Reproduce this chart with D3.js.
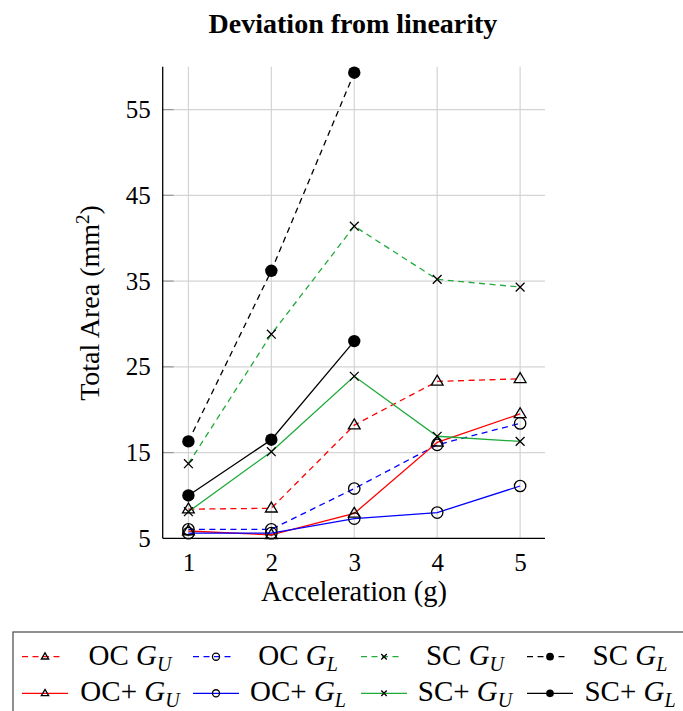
<!DOCTYPE html>
<html>
<head>
<meta charset="utf-8">
<script src="https://cdn.jsdelivr.net/npm/d3@7"></script>
<style>
  body { margin: 0; background: #fff; }
  text { font-family: "Liberation Serif", "Times New Roman", serif; fill: #000; }
</style>
</head>
<body>
<div id="chart"></div>
<script>
// Data
const accel = [1, 2, 3, 4, 5];
const yTicks = [5, 15, 25, 35, 45, 55];

const ocGU = [8.4, 8.5, 18.2, 23.3, 23.6];
const ocGL = [6.05, 6.05, 10.8, 15.9, 18.4];
const scGU = [13.7, 28.8, 41.4, 35.2, 34.3];
const scGL = [16.3, 36.2, 59.3];
const ocpGU = [5.85, 5.4, 7.9, 16.2, 19.5];
const ocpGL = [5.6, 5.6, 7.3, 8.0, 11.1];
const scpGU = [8.1, 15.1, 23.9, 16.9, 16.3];
const scpGL = [10.0, 16.5, 28.0];

const series = [
    { name: "OC", sub: "U", values: ocGU, color: "#ff0000", dashed: true, mark: "triangle" },
    { name: "OC", sub: "L", values: ocGL, color: "#0000ff", dashed: true, mark: "circle" },
    { name: "SC", sub: "U", values: scGU, color: "#1faa3a", dashed: true, mark: "cross" },
    { name: "SC", sub: "L", values: scGL, color: "#000000", dashed: true, mark: "dot" },
    { name: "OC+", sub: "U", values: ocpGU, color: "#ff0000", dashed: false, mark: "triangle" },
    { name: "OC+", sub: "L", values: ocpGL, color: "#0000ff", dashed: false, mark: "circle" },
    { name: "SC+", sub: "U", values: scpGU, color: "#1faa3a", dashed: false, mark: "cross" },
    { name: "SC+", sub: "L", values: scpGL, color: "#000000", dashed: false, mark: "dot" }
];

const width = 683, height = 711;
const plot = { left: 162.7, right: 545, top: 66.7, bottom: 538.3 };
const serif = "'Liberation Serif', 'Times New Roman', serif";

const svg = d3.select("#chart").append("svg")
    .attr("width", width)
    .attr("height", height);

const x = d3.scaleLinear().domain([0.69, 5.3]).range([plot.left, plot.right]);
const y = d3.scaleLinear().domain([5, 60]).range([plot.bottom, plot.top]);

// grid
svg.append("g").selectAll("line")
    .data(accel)
    .enter().append("line")
    .attr("x1", d => x(d)).attr("x2", d => x(d))
    .attr("y1", plot.top).attr("y2", plot.bottom)
    .attr("stroke", "#d4d4d4").attr("stroke-width", 1.2);

svg.append("g").selectAll("line")
    .data(yTicks.slice(1))
    .enter().append("line")
    .attr("x1", plot.left).attr("x2", plot.right)
    .attr("y1", d => y(d)).attr("y2", d => y(d))
    .attr("stroke", "#d4d4d4").attr("stroke-width", 1.2);

// small inner tick marks on the y axis
svg.append("g").selectAll("line")
    .data(yTicks.slice(1))
    .enter().append("line")
    .attr("x1", plot.left).attr("x2", plot.left + 11)
    .attr("y1", d => y(d)).attr("y2", d => y(d))
    .attr("stroke", "#999").attr("stroke-width", 1.2);

// axes
const xAxis = svg.append("g")
    .attr("transform", `translate(0,${plot.bottom})`)
    .call(d3.axisBottom(x).tickValues(accel).tickSize(0).tickPadding(15).tickFormat(d3.format("d")))
    .attr("font-family", serif).attr("font-size", 25);
xAxis.select(".domain").attr("d", `M${plot.left},0H${plot.right}`).attr("stroke", "#000").attr("stroke-width", 1.3);

const yAxis = svg.append("g")
    .attr("transform", `translate(${plot.left},0)`)
    .call(d3.axisLeft(y).tickValues(yTicks).tickSize(0).tickPadding(12).tickFormat(d3.format("d")))
    .attr("font-family", serif).attr("font-size", 25);
yAxis.select(".domain").attr("d", `M0,${plot.top}V${plot.bottom}`).attr("stroke", "#000").attr("stroke-width", 1.3);

// titles
svg.append("text")
    .attr("x", 353).attr("y", 33)
    .attr("text-anchor", "middle")
    .attr("font-size", 28).attr("font-weight", "bold")
    .text("Deviation from linearity");

svg.append("text")
    .attr("x", 354).attr("y", 601)
    .attr("text-anchor", "middle")
    .attr("font-size", 28.5)
    .text("Acceleration (g)");

const yl = svg.append("text")
    .attr("transform", `translate(99,303) rotate(-90)`)
    .attr("text-anchor", "middle")
    .attr("font-size", 28);
yl.append("tspan").text("Total Area (mm");
yl.append("tspan").attr("baseline-shift", "super").attr("font-size", 19).text("2");
yl.append("tspan").text(")");

// marker drawing
function drawMark(g, type, cx, cy, s) {
    if (type === "triangle") {
        const r = 6.2 * s;
        g.append("path")
            .attr("d", `M${cx},${cy - r}L${cx + r * 0.95},${cy + r * 0.6}L${cx - r * 0.95},${cy + r * 0.6}Z`)
            .attr("fill", "none").attr("stroke", "#000").attr("stroke-width", 1.3);
    } else if (type === "circle") {
        g.append("circle").attr("cx", cx).attr("cy", cy).attr("r", 5.7 * s)
            .attr("fill", "none").attr("stroke", "#000").attr("stroke-width", 1.3);
    } else if (type === "cross") {
        const r = 4.4 * s;
        g.append("path")
            .attr("d", `M${cx - r},${cy - r}L${cx + r},${cy + r}M${cx - r},${cy + r}L${cx + r},${cy - r}`)
            .attr("stroke", "#000").attr("stroke-width", 1.3);
    } else {
        g.append("circle").attr("cx", cx).attr("cy", cy).attr("r", 6.2 * s)
            .attr("fill", "#000");
    }
}

const line = d3.line()
    .x((d, i) => x(accel[i]))
    .y(d => y(d));

series.forEach(s => {
    const g = svg.append("g");
    g.append("path")
        .datum(s.values)
        .attr("d", line)
        .attr("fill", "none")
        .attr("stroke", s.color)
        .attr("stroke-width", 1.3)
        .attr("stroke-dasharray", s.dashed ? "6,4.5" : null);
    s.values.forEach((v, i) => drawMark(g, s.mark, x(accel[i]), y(v), 1));
});

// legend
const legend = svg.append("g");
legend.append("rect")
    .attr("x", 13).attr("y", 632)
    .attr("width", 700).attr("height", 100)
    .attr("fill", "#fff").attr("stroke", "#555").attr("stroke-width", 1.3);

const colStart = [22, 193, 361, 527];
const colText = [130, 298, 465, 630];
const rowLine = [656.7, 693.3];
const rowBase = [665, 701];

series.forEach((s, k) => {
    const row = s.dashed ? 0 : 1;
    const col = k % 4;
    const x0 = colStart[col], ly = rowLine[row];
    legend.append("line")
        .attr("x1", x0).attr("x2", x0 + (s.dashed ? 40 : 46))
        .attr("y1", ly).attr("y2", ly)
        .attr("stroke", s.color).attr("stroke-width", 1.3)
        .attr("stroke-dasharray", s.dashed ? "6,4.5" : null);
    drawMark(legend, s.mark, x0 + 23, ly, 0.62);
    const t = legend.append("text")
        .attr("x", colText[col]).attr("y", rowBase[row])
        .attr("text-anchor", "middle")
        .attr("font-size", 29);
    t.append("tspan").text(s.name + " ");
    t.append("tspan").attr("font-style", "italic").text("G");
    t.append("tspan").attr("font-style", "italic").attr("font-size", 20)
        .attr("dy", 6).text(s.sub);
});
</script>
</body>
</html>
